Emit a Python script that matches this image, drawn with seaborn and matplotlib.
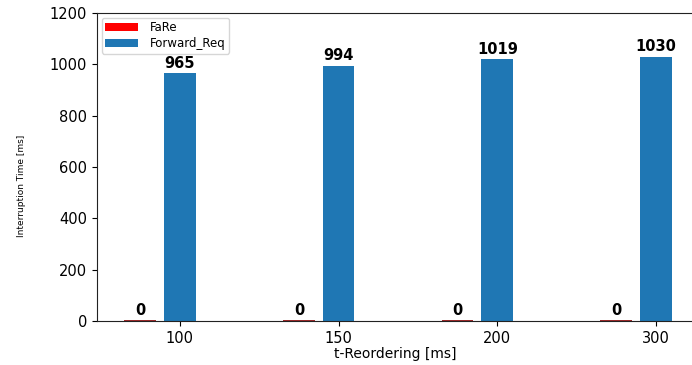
import numpy as np
import pandas as pd
import matplotlib
matplotlib.use("Agg")
import matplotlib.pyplot as plt
import seaborn as sns

# Interruption time per t-Reordering setting
t_reordering = ["100", "150", "200", "300"]
fare = [0, 0, 0, 0]
forward_req = [965, 994, 1019, 1030]
series_names = ["FaRe", "Forward_Req"]
colors = {"FaRe": "#ff0000", "Forward_Req": "#1f77b4"}

df = pd.DataFrame({
    "t": t_reordering * 2,
    "series": [series_names[0]] * len(fare) + [series_names[1]] * len(forward_req),
    "value": fare + forward_req,
})

sns.set_style("ticks")
plt.rcParams["font.family"] = ["DejaVu Sans"]
plt.rcParams["text.color"] = "black"
plt.rcParams["xtick.color"] = "black"
plt.rcParams["ytick.color"] = "black"
plt.rcParams["axes.labelcolor"] = "black"
plt.rcParams["axes.edgecolor"] = "#222222"

fig = plt.figure(figsize=(6.92, 3.65), dpi=100)
ax = fig.add_axes([0.140, 0.1205, 0.863, 0.844])

sns.barplot(data=df, x="t", y="value", hue="series", hue_order=series_names,
            order=t_reordering, palette=colors, saturation=1,
            width=0.5, gap=0.2, dodge=True, ax=ax, errorbar=None,
            linewidth=0)

# zero-height bars still show as a thin line on the axis
for p in ax.containers[0]:
    p.set_edgecolor("#8b0000")
    p.set_linewidth(1.2)

for cont in ax.containers:
    ax.bar_label(cont, fmt="%d", fontweight="bold", fontsize=10.5, padding=2,
                 color="black")

# ticks sit under the Forward_Req bars
shift = 0.125
idx = np.arange(len(t_reordering))
ax.set_xticks(idx + shift)
ax.set_xticklabels(t_reordering, fontsize=10.5)
ax.set_xlim(shift - 0.523, shift + len(t_reordering) - 1 + 0.24)
ax.set_ylim(0, 1200)
ax.set_yticks(range(0, 1201, 200))
ax.tick_params(axis="y", labelsize=10.5)
ax.spines["right"].set_visible(False)

ax.set_xlabel("t-Reordering [ms]", fontsize=10, labelpad=1)
ax.set_ylabel("Interruption Time [ms]", fontsize=6.5)
ax.yaxis.set_label_coords(-0.118, 0.44)

leg = ax.legend(loc="upper left", fontsize=8.5, handlelength=2.8,
                handleheight=0.6, handletextpad=1.0, labelspacing=0.25,
                borderpad=0.3, borderaxespad=0.4, frameon=True)
leg.set_title(None)

fig.savefig("out.png", dpi=100)
